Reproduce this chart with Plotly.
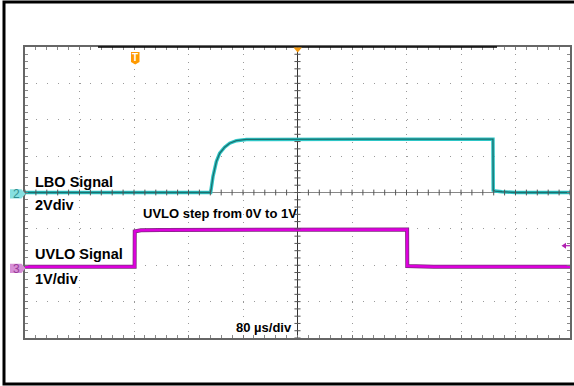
import plotly.graph_objects as go

# ---- data ----
# LBO signal, channel 2: time (µs) and volts, 2 V/div, offset 0 div
lbo_t = [-400, -127.5, -124.1, -119.1, -114.2, -106.9, -99.5, -89.7, -75.0, -40, 0, 100, 200, 286.9, 287.3, 290, 300, 320, 400]
lbo_v = [0.0, 0.0, 0.87, 1.70, 2.16, 2.49, 2.71, 2.85, 2.92, 2.93, 2.94, 2.93, 2.93, 2.93, 0.12, 0.08, 0.04, 0.0, 0.0]
lbo_scale = 2.0
lbo_offset = 0.0

# UVLO signal, channel 3: 1 V/div, offset about -2 div
uvlo_t = [-400, -239.1, -238.9, -230, -200, 0, 160.9, 161.1, 200, 400]
uvlo_v = [0.0, 0.0, 0.97, 1.0, 1.01, 1.02, 1.02, 0.02, 0.0, 0.0]
uvlo_scale = 1.0
uvlo_offset = -2.04

labels = ["LBO Signal", "2Vdiv", "UVLO Signal", "1V/div", "UVLO step from 0V to 1V", "80 µs/div"]

# ---- geometry helpers ----
L, R, T, B = 25, 570, 47, 338
W, H = R - L, B - T
def px(x):
    return (x - L) / W
def py(y):
    return (B - y) / H

lbo_div = [v / lbo_scale + lbo_offset for v in lbo_v]
uvlo_div = [v / uvlo_scale + uvlo_offset for v in uvlo_v]

fig = go.Figure()
fig.add_trace(go.Scatter(x=lbo_t, y=lbo_div, mode="lines", line=dict(color="#2ec6c6", width=3.5), hoverinfo="skip"))
fig.add_trace(go.Scatter(x=lbo_t, y=lbo_div, mode="lines", line=dict(color="#1b6f6f", width=1.3), hoverinfo="skip"))
fig.add_trace(go.Scatter(x=uvlo_t, y=uvlo_div, mode="lines", line=dict(color="#7d2a7d", width=4), hoverinfo="skip"))
fig.add_trace(go.Scatter(x=uvlo_t, y=uvlo_div, mode="lines", line=dict(color="#dd00dd", width=2.5), hoverinfo="skip"))

shapes = []
# outer frame
shapes.append(dict(type="rect", xref="paper", yref="paper", x0=px(4), x1=px(590), y0=py(384), y1=py(2),
                   line=dict(color="black", width=3), layer="below"))
# black part of top border
shapes.append(dict(type="line", xref="paper", yref="paper", x0=px(98), x1=px(497), y0=1, y1=1,
                   line=dict(color="black", width=1.5)))
# center cross ticks
for k in range(51):
    x = -400 + 16 * k
    shapes.append(dict(type="line", xref="x", yref="y", x0=x, x1=x, y0=-0.08, y1=0.08,
                       line=dict(color="#555", width=1)))
for k in range(41):
    y = -4 + 0.2 * k
    shapes.append(dict(type="line", xref="x", yref="y", x0=-4.5, x1=4.5, y0=y, y1=y,
                       line=dict(color="#555", width=1)))
# channel markers
def marker_path(x0, x1, xt, yc, h):
    return (f"M {px(x0)},{py(yc - h)} L {px(x1)},{py(yc - h)} L {px(xt)},{py(yc)} "
            f"L {px(x1)},{py(yc + h)} L {px(x0)},{py(yc + h)} Z")
shapes.append(dict(type="path", xref="paper", yref="paper", path=marker_path(10, 21.5, 25.5, 193.8, 4.6),
                   fillcolor="#86e0e0", line=dict(width=0)))
shapes.append(dict(type="path", xref="paper", yref="paper", path=marker_path(10, 21.5, 25.5, 268.3, 4.6),
                   fillcolor="#d68fd6", line=dict(width=0)))
# trigger T marker
shapes.append(dict(type="path", xref="paper", yref="paper",
                   path=(f"M {px(131)},{py(52)} L {px(139.5)},{py(52)} L {px(139.5)},{py(62)} "
                         f"L {px(135.2)},{py(64.5)} L {px(131)},{py(62)} Z"),
                   fillcolor="#ff9a00", line=dict(width=0)))
# horizontal position marker (top centre)
shapes.append(dict(type="path", xref="paper", yref="paper",
                   path=f"M {px(293.5)},{py(47.5)} L {px(302)},{py(47.5)} L {px(297.7)},{py(52.5)} Z",
                   fillcolor="#f59a10", line=dict(width=0)))
# trigger level arrow (right)
shapes.append(dict(type="path", xref="paper", yref="paper",
                   path=f"M {px(561.5)},{py(245.7)} L {px(566)},{py(242.7)} L {px(566)},{py(248.7)} Z",
                   fillcolor="#b020b0", line=dict(width=0)))
shapes.append(dict(type="line", xref="paper", yref="paper", x0=px(565), x1=px(570), y0=py(245.7), y1=py(245.7),
                   line=dict(color="#b020b0", width=1.2)))

def t_of(x):
    return -400 + (x - L) / W * 800
def d_of(y):
    return (T + H / 2 - y) / (H / 8)

big = dict(family="Liberation Sans, Arial, sans-serif", size=14.5, color="black")
small = dict(family="Liberation Sans, Arial, sans-serif", size=13, color="black")
ann = [
    dict(x=t_of(33), y=d_of(181.5), text=f"<b>{labels[0]}</b>", xanchor="left", yanchor="middle", font=big),
    dict(x=t_of(33), y=d_of(205), text=f"<b>{labels[1]}</b>", xanchor="left", yanchor="middle", font=big),
    dict(x=t_of(33), y=d_of(253.5), text=f"<b>{labels[2]}</b>", xanchor="left", yanchor="middle", font=big),
    dict(x=t_of(33), y=d_of(278.7), text=f"<b>{labels[3]}</b>", xanchor="left", yanchor="middle", font=big),
    dict(x=t_of(141), y=d_of(213.8), text=f"<b>{labels[4]}</b>", xanchor="left", yanchor="middle", font=small),
    dict(x=t_of(294), y=d_of(327.5), text=f"<b>{labels[5]}</b>", xanchor="right", yanchor="middle", font=small),
    dict(x=px(16), y=py(194.3), xref="paper", yref="paper", text="2", showarrow=False,
         xanchor="center", yanchor="middle",
         font=dict(family="Liberation Sans, Arial", size=12, color="#2f8f8f")),
    dict(x=px(16), y=py(268.8), xref="paper", yref="paper", text="3", showarrow=False,
         xanchor="center", yanchor="middle",
         font=dict(family="Liberation Sans, Arial", size=12, color="#9a3c9a")),
    dict(x=px(135.3), y=py(57.5), xref="paper", yref="paper", text="<b>T</b>", showarrow=False,
         xanchor="center", yanchor="middle",
         font=dict(family="Liberation Sans, Arial", size=10, color="white")),
]
for a in ann:
    a.setdefault("showarrow", False)
    a.setdefault("xref", "x")
    a.setdefault("yref", "y")

fig.update_layout(
    width=574, height=386,
    margin=dict(l=L, r=574 - R, t=T, b=386 - B, pad=0, autoexpand=False),
    paper_bgcolor="white", plot_bgcolor="white",
    showlegend=False,
    shapes=shapes,
    annotations=ann,
    xaxis=dict(range=[-400, 400], dtick=80, tick0=-400, showticklabels=False,
               showgrid=True, gridcolor="#9a9a9a", gridwidth=1, griddash="1px,6.275px",
               zeroline=True, zerolinecolor="#333333", zerolinewidth=1,
               showline=True, linecolor="#666666", linewidth=1.5, mirror="ticks",
               ticks="inside", ticklen=3, tickcolor="#777777",
               minor=dict(dtick=16, ticks="inside", ticklen=3, tickcolor="#888888", showgrid=False),
               fixedrange=True, automargin=False),
    yaxis=dict(range=[-4, 4], dtick=1, tick0=-4, showticklabels=False,
               showgrid=True, gridcolor="#9a9a9a", gridwidth=1, griddash="1px,9.9px",
               zeroline=True, zerolinecolor="#888888", zerolinewidth=1,
               showline=True, linecolor="#666666", linewidth=1.5, mirror="ticks",
               ticks="inside", ticklen=3, tickcolor="#777777",
               minor=dict(dtick=0.2, ticks="inside", ticklen=3, tickcolor="#888888", showgrid=False),
               fixedrange=True, automargin=False),
)

fig.write_html("out.html", config={"displayModeBar": False},
               post_script="document.body.style.margin='0';document.body.style.overflow='hidden';")
